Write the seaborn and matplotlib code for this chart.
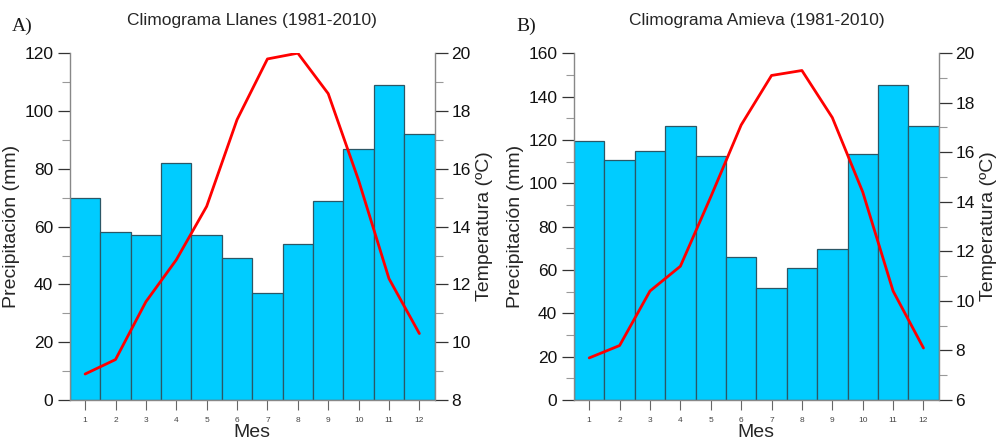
import numpy as np
import pandas as pd
import matplotlib
matplotlib.use("Agg")
import matplotlib.pyplot as plt
import seaborn as sns
from matplotlib.ticker import MultipleLocator

months = list(range(1, 13))
precip_llanes = [70, 58, 57, 82, 57, 49, 37, 54, 69, 87, 109, 92]
temp_llanes = [8.9, 9.4, 11.4, 12.85, 14.7, 17.7, 19.8, 20.0, 18.6, 15.6, 12.2, 10.3]
precip_amieva = [119.7, 110.6, 115.1, 126.3, 112.6, 66, 51.5, 61, 69.7, 113.7, 145.5, 126.5]
temp_amieva = [7.7, 8.2, 10.4, 11.4, 14.2, 17.1, 19.1, 19.3, 17.4, 14.4, 10.4, 8.1]

titles = ["Climograma Llanes (1981-2010)", "Climograma Amieva (1981-2010)"]
panel_labels = ["A)", "B)"]
precip_lims = [(0, 120), (0, 160)]
temp_lims = [(8, 20), (6, 20)]

sns.set_theme(style="ticks")
plt.rcParams["font.family"] = ["Liberation Sans", "DejaVu Sans"]

fig = plt.figure(figsize=(9.99, 4.43), dpi=100)
positions = [[0.070, 0.097, 0.365, 0.783], [0.5746, 0.097, 0.365, 0.783]]
data_sets = [(precip_llanes, temp_llanes), (precip_amieva, temp_amieva)]

for i, (pos, (pr, tm)) in enumerate(zip(positions, data_sets)):
    ax = fig.add_axes(pos)
    df = pd.DataFrame({"Mes": months, "P": pr, "T": tm})
    sns.barplot(data=df, x="Mes", y="P", native_scale=True, width=1.0,
                color="#00CCFF", saturation=1, edgecolor="#2b5766",
                linewidth=0.9, ax=ax)
    ax.set_xlim(0.5, 12.5)
    ax.set_ylim(*precip_lims[i])
    ax.yaxis.set_major_locator(MultipleLocator(20))
    ax.yaxis.set_minor_locator(MultipleLocator(10))
    ax.set_xticks(months)
    ax.set_xticklabels([str(m) for m in months], fontsize=6, color="#444444")
    ax.tick_params(axis="x", length=7, width=0.8, color="#666666", pad=5)
    ax.tick_params(axis="y", which="major", length=9, width=0.9, color="#333333",
                   labelsize=12.5, labelcolor="#111111", pad=3)
    ax.tick_params(axis="y", which="minor", length=6, width=0.8, color="#999999")
    ax.set_xlabel("Mes", fontsize=14, labelpad=0)
    ax.set_ylabel("Precipitación (mm)", fontsize=14, labelpad=3)
    ax.set_title(titles[i], fontsize=12.5, pad=20)
    for s in ["top", "right"]:
        ax.spines[s].set_visible(False)
    for s in ["left", "bottom"]:
        ax.spines[s].set_color("#888888")
        ax.spines[s].set_linewidth(1.0)

    ax2 = ax.twinx()
    sns.lineplot(data=df, x="Mes", y="T", color="#ff0000", linewidth=2.0, ax=ax2)
    ax2.set_ylim(*temp_lims[i])
    ax2.yaxis.set_major_locator(MultipleLocator(2))
    ax2.yaxis.set_minor_locator(MultipleLocator(1))
    ax2.tick_params(axis="y", which="major", length=9, width=0.9, color="#333333",
                    labelsize=12.5, labelcolor="#111111", pad=3)
    ax2.tick_params(axis="y", which="minor", length=6, width=0.8, color="#999999")
    ax2.set_ylabel("Temperatura (ºC)", fontsize=14, labelpad=4)
    for s in ["top", "left", "bottom"]:
        ax2.spines[s].set_visible(False)
    ax2.spines["right"].set_color("#888888")
    ax2.spines["right"].set_linewidth(1.0)
    ax2.set_xlim(0.5, 12.5)

    fig.text(pos[0] - 0.058, 0.94, panel_labels[i], fontsize=14,
             family=["Liberation Serif", "DejaVu Serif"], color="#1a1a1a",
             va="center", ha="left")

fig.savefig("out.png", dpi=100)
